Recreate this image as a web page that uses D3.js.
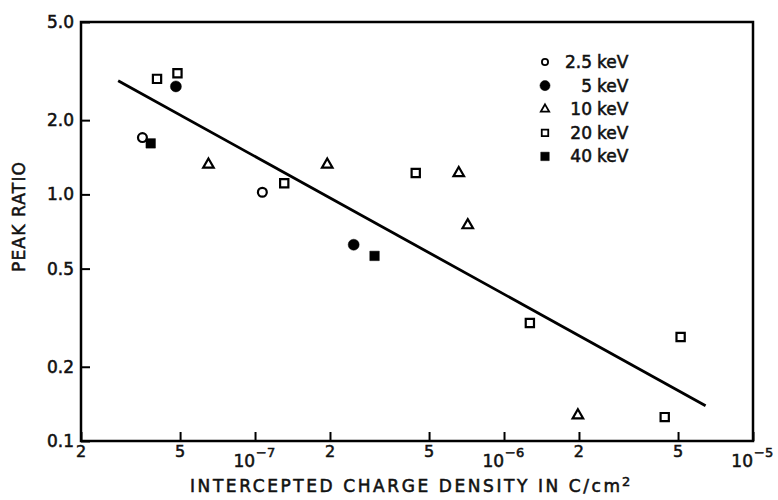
<!DOCTYPE html>
<html>
<head>
<meta charset="utf-8">
<script src="https://cdn.jsdelivr.net/npm/d3@7"></script>
<style>
  html, body { margin: 0; padding: 0; background: #fff; }
  svg { display: block; font-family: 'DejaVu Sans', sans-serif; }
  svg text { fill: #111; stroke: #111; stroke-width: 0.55px; }
</style>
</head>
<body>
<svg id="chart" width="778" height="500"></svg>
<script>
// Values (log-log)
const xTicks = [2e-8, 5e-8, 1e-7, 2e-7, 5e-7, 1e-6, 2e-6, 5e-6, 1e-5]
const xTickLabels = ['2', '5', '10^-7', '2', '5', '10^-6', '2', '5', '10^-5']
const yTicks = [0.1, 0.2, 0.5, 1, 2, 5]
const yTickLabels = ['0.1', '0.2', '0.5', '1.0', '2.0', '5.0']

const legendLabels = ['2.5', '5', '10', '20', '40']
const legendUnit = 'keV'

const kev2_5 = [[3.53e-8, 1.70], [1.07e-7, 1.02]]
const kev5 = [[4.81e-8, 2.74], [2.49e-7, 0.625]]
const kev10 = [[6.5e-8, 1.32], [1.95e-7, 1.32], [6.58e-7, 1.22], [7.15e-7, 0.75], [1.98e-6, 0.127]]
const kev20 = [[4.04e-8, 2.94], [4.88e-8, 3.10], [1.31e-7, 1.11], [4.42e-7, 1.22], [1.27e-6, 0.301], [4.42e-6, 0.125], [5.12e-6, 0.264]]
const kev40 = [[3.81e-8, 1.61], [3.02e-7, 0.563]]
const fitLine = [[2.82e-8, 2.89], [6.45e-6, 0.139]]

const xTitle = 'INTERCEPTED CHARGE DENSITY IN C/cm'
const yTitle = 'PEAK RATIO'

const plotLeft = 81, plotRight = 753, plotTop = 22, plotBottom = 441

const svg = d3.select('#chart')

const x = d3.scaleLog().domain([2e-8, 1e-5]).range([plotLeft, plotRight])
const y = d3.scaleLog().domain([0.1, 5]).range([plotBottom, plotTop])

// ── axes: inward ticks on left and bottom only ──
const yAxis = svg.append('g')
  .attr('transform', `translate(${plotLeft},0)`)
  .call(d3.axisLeft(y).tickValues(yTicks).tickSize(-9).tickPadding(7)
    .tickFormat((d, i) => yTickLabels[i]))
yAxis.select('.domain').remove()
yAxis.selectAll('line').attr('stroke', '#000').attr('stroke-width', 2)
yAxis.selectAll('text')
  .attr('font-family', 'DejaVu Sans, sans-serif')
  .attr('font-size', 17)

const xAxis = svg.append('g')
  .attr('transform', `translate(0,${plotBottom})`)
  .call(d3.axisBottom(x).tickValues(xTicks).tickSize(-9).tickFormat(''))
xAxis.select('.domain').remove()
xAxis.selectAll('line').attr('stroke', '#000').attr('stroke-width', 2)

// x tick labels, powers of ten get a superscript exponent
xTicks.forEach((t, i) => {
  const lab = xTickLabels[i]
  if (lab.includes('^')) {
    const [base, exp] = lab.split('^')
    svg.append('text')
      .attr('x', x(t)).attr('y', 467)
      .attr('text-anchor', 'end')
      .attr('font-size', 17)
      .text(base)
    svg.append('text')
      .attr('x', x(t) + 1).attr('y', 457)
      .attr('font-size', 13)
      .text(exp.replace('-', '\u2212'))
  } else {
    svg.append('text')
      .attr('x', x(t)).attr('y', 457)
      .attr('text-anchor', 'middle')
      .attr('font-size', 16)
      .text(lab)
  }
})

// frame
svg.append('rect')
  .attr('x', plotLeft).attr('y', plotTop)
  .attr('width', plotRight - plotLeft).attr('height', plotBottom - plotTop)
  .attr('fill', 'none')
  .attr('stroke', '#000')
  .attr('stroke-width', 2.5)

// titles
svg.append('text')
  .attr('x', 190).attr('y', 492)
  .attr('font-size', 17)
  .attr('textLength', 430)
  .attr('lengthAdjust', 'spacing')
  .text(xTitle)
svg.append('text')
  .attr('x', 622).attr('y', 486)
  .attr('font-size', 13)
  .text('2')

svg.append('text')
  .attr('transform', 'translate(25,217) rotate(-90)')
  .attr('text-anchor', 'middle')
  .attr('font-size', 17)
  .attr('textLength', 110)
  .attr('lengthAdjust', 'spacing')
  .text(yTitle)

// fitted line
svg.append('path')
  .datum(fitLine)
  .attr('d', d3.line().x(d => x(d[0])).y(d => y(d[1])))
  .attr('fill', 'none')
  .attr('stroke', '#000')
  .attr('stroke-width', 2.8)

// markers
const markers = [
  { data: kev2_5, shape: d3.symbolCircle, size: 62, fill: '#fff' },
  { data: kev5, shape: d3.symbolCircle, size: 95, fill: '#000' },
  { data: kev10, shape: d3.symbolTriangle, size: 48, fill: '#fff' },
  { data: kev20, shape: d3.symbolSquare, size: 68, fill: '#fff' },
  { data: kev40, shape: d3.symbolSquare, size: 90, fill: '#000' },
]

markers.forEach(m => {
  svg.append('g')
    .selectAll('path')
    .data(m.data)
    .join('path')
    .attr('transform', d => `translate(${x(d[0])},${y(d[1])})`)
    .attr('d', d3.symbol(m.shape, m.size))
    .attr('fill', m.fill)
    .attr('stroke', '#000')
    .attr('stroke-width', m.fill === '#000' ? 0.5 : 2.2)
})

// legend
const legendSizes = [30, 80, 30, 42, 72]
const legend = svg.append('g')
markers.forEach((m, i) => {
  const ly = 62 + i * 23.6
  legend.append('path')
    .attr('transform', `translate(545,${ly})`)
    .attr('d', d3.symbol(m.shape, legendSizes[i]))
    .attr('fill', m.fill)
    .attr('stroke', '#000')
    .attr('stroke-width', m.fill === '#000' ? 0.5 : 1.8)
  legend.append('text')
    .attr('x', 592).attr('y', ly + 6)
    .attr('text-anchor', 'end')
    .attr('font-size', 17)
    .text(legendLabels[i])
  legend.append('text')
    .attr('x', 597).attr('y', ly + 6)
    .attr('font-size', 17)
    .text(legendUnit)
})
</script>
</body>
</html>
